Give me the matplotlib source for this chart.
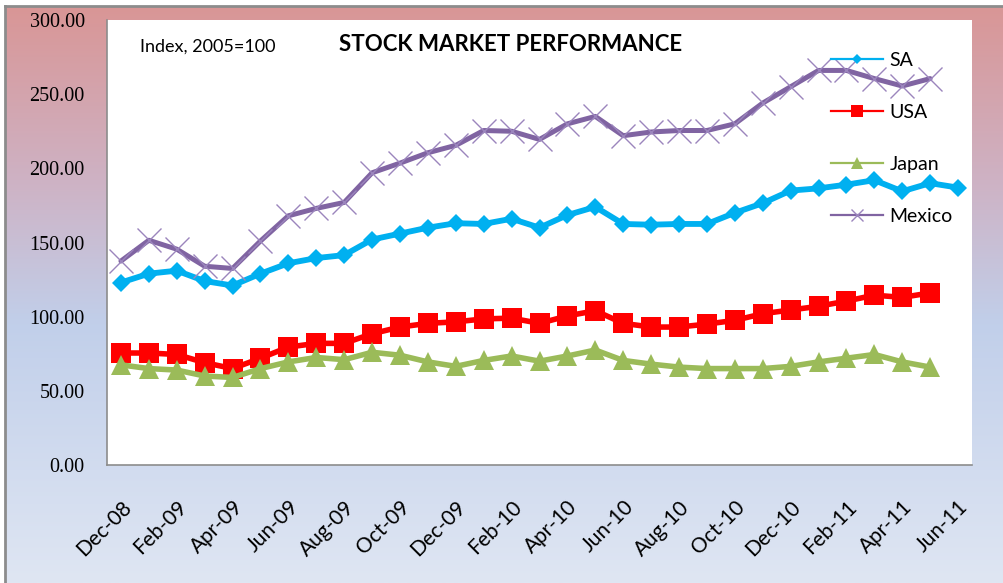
import numpy as np
import pandas as pd
import matplotlib
matplotlib.use("Agg")
from matplotlib import pyplot as plt
from matplotlib.lines import Line2D
from matplotlib.colors import LinearSegmentedColormap

# monthly index, 2005=100
months = list(pd.date_range("2008-12-01", periods=31, freq="MS").strftime("%b-%y"))

sa = [123, 129, 131, 124, 121, 129, 136, 139.5, 141.5, 152, 156, 160, 163,
      162.5, 166, 160, 168.5, 174, 162.5, 162, 162.5, 162.5, 170, 176.5,
      185, 186.5, 189, 192, 184.5, 190, 187]
usa = [75.5, 75.5, 74.5, 69, 65, 72, 79.5, 82, 82, 88.5, 93, 95.5, 96.5,
       98.5, 99, 95.5, 100.5, 104, 95.5, 93, 93, 95, 97.5, 102, 104.5,
       107, 110.5, 114.5, 113, 116]
japan = [67.5, 65, 64, 60, 59, 65, 69.5, 72.5, 71, 76, 74, 69.5, 66.5,
         70.5, 73.5, 70, 73.5, 77.5, 70.5, 68, 66, 65, 65, 65, 66.5,
         69.5, 72, 74.5, 69.5, 66]
mexico = [137.5, 151.5, 145.5, 134, 132.5, 151, 168, 173, 177, 197, 203.5,
          210.5, 215.5, 225.5, 225, 219.5, 230, 235, 222, 224.5, 225.5,
          225.5, 230, 244, 255, 266, 266, 260.5, 255.5, 260.5]

series = [("SA", sa, "#00B0F0", "D"),
          ("USA", usa, "#FF0000", "s"),
          ("Japan", japan, "#9BBB59", "^"),
          ("Mexico", mexico, "#8064A2", "x")]

W, H = 1004, 583
fig = plt.figure(figsize=(W / 100, H / 100), dpi=100)
fig.patch.set_facecolor("white")

# gradient chart-area background
cmap = LinearSegmentedColormap.from_list("bg", [
    (0.0, (217 / 255, 150 / 255, 150 / 255)),
    (0.30, (206 / 255, 178 / 255, 196 / 255)),
    (0.55, (193 / 255, 207 / 255, 234 / 255)),
    (1.0, (223 / 255, 230 / 255, 243 / 255))])
bg = fig.add_axes([6 / W, 0, 1 - 6 / W, 1 - 7 / H], zorder=0)
bg.imshow(np.linspace(0, 1, 256).reshape(-1, 1), cmap=cmap, aspect="auto",
          extent=[0, 1, 0, 1])
bg.axis("off")
fig.add_artist(Line2D([5 / W, 5 / W], [0, 1 - 6 / H], color="#8c8c8c", lw=2))
fig.add_artist(Line2D([5 / W, 1], [1 - 6 / H, 1 - 6 / H], color="#8c8c8c", lw=2))

ax = fig.add_axes([107 / W, 1 - 465 / H, 865 / W, 445 / H], zorder=1)
ax.set_facecolor("white")

x = np.arange(len(months))
for name, vals, col, mk in series:
    xs = x[:len(vals)]
    if mk == "x":
        ax.plot(xs, vals, color=col, lw=3.6, marker=mk, ms=17, mew=1,
                mec="#9b85bd", solid_capstyle="round")
    elif mk == "D":
        ax.plot(xs, vals, color=col, lw=4.2, marker=mk, ms=9.5, mew=0)
    else:
        ax.plot(xs, vals, color=col, lw=4, marker=mk, ms=14, mew=0)

ax.set_xlim(-0.5, len(months) - 0.5)
ax.set_ylim(0, 300)
ax.set_yticks(np.arange(0, 301, 50))
ax.set_yticklabels([f"{v:.2f}" for v in np.arange(0, 301, 50)],
                   family="Liberation Serif", fontsize=14.5)
ax.set_xticks(x[::2])
ax.set_xticklabels(months[::2], rotation=45, ha="right", va="top",
                   rotation_mode="anchor", family="Lato", fontsize=15)
ax.tick_params(axis="y", length=0, pad=16)
ax.tick_params(axis="x", length=0, pad=23)
for s in ["top", "right"]:
    ax.spines[s].set_visible(False)
for s in ["left", "bottom"]:
    ax.spines[s].set_color("#8c8c8c")
    ax.spines[s].set_linewidth(1.2)

ax.text(0.038, 0.94, "Index, 2005=100", transform=ax.transAxes,
        family="Lato", fontsize=13, va="center", ha="left")
ax.text(0.467, 0.945, "STOCK MARKET PERFORMANCE", transform=ax.transAxes,
        family="Lato", fontsize=16, fontweight="bold", va="center", ha="center")

handles = [
    Line2D([], [], color="#00B0F0", lw=1.6, marker="D", ms=5, mew=0),
    Line2D([], [], color="#FF0000", lw=1.6, marker="s", ms=9, mew=0),
    Line2D([], [], color="#9BBB59", lw=1.6, marker="^", ms=8, mew=0),
    Line2D([], [], color="#8064A2", lw=1.6, marker="x", ms=9, mew=1, mec="#9b85bd"),
]
ax.legend(handles, [s[0] for s in series], loc="upper left",
          bbox_to_anchor=(0.828, 0.946), frameon=False,
          prop={"family": "Lato", "size": 14}, handlelength=2.7,
          labelspacing=1.8, handletextpad=0.3, borderaxespad=0)

fig.savefig("out.png", dpi=100)
